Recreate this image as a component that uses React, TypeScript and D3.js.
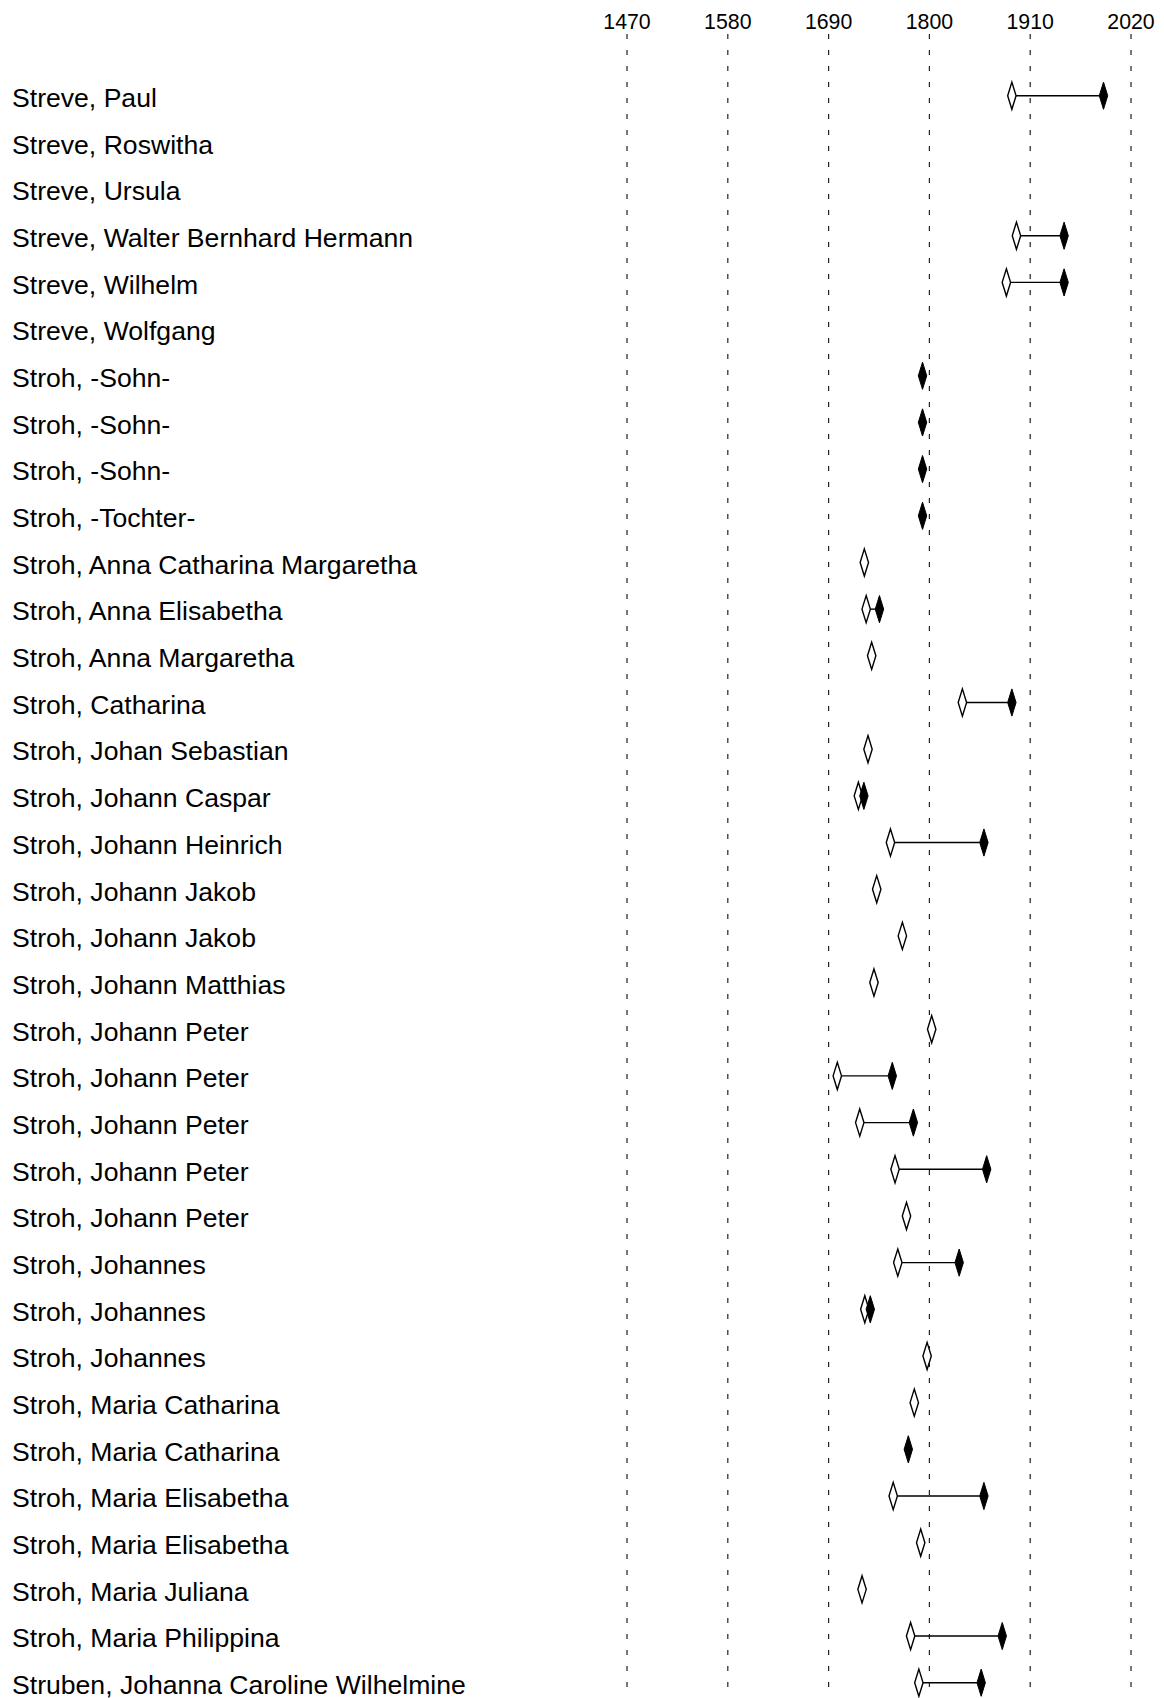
import React from "react";
import * as d3 from "d3";

const names: string[] = [
  "Streve, Paul",
  "Streve, Roswitha",
  "Streve, Ursula",
  "Streve, Walter Bernhard Hermann",
  "Streve, Wilhelm",
  "Streve, Wolfgang",
  "Stroh, -Sohn-",
  "Stroh, -Sohn-",
  "Stroh, -Sohn-",
  "Stroh, -Tochter-",
  "Stroh, Anna Catharina Margaretha",
  "Stroh, Anna Elisabetha",
  "Stroh, Anna Margaretha",
  "Stroh, Catharina",
  "Stroh, Johan Sebastian",
  "Stroh, Johann Caspar",
  "Stroh, Johann Heinrich",
  "Stroh, Johann Jakob",
  "Stroh, Johann Jakob",
  "Stroh, Johann Matthias",
  "Stroh, Johann Peter",
  "Stroh, Johann Peter",
  "Stroh, Johann Peter",
  "Stroh, Johann Peter",
  "Stroh, Johann Peter",
  "Stroh, Johannes",
  "Stroh, Johannes",
  "Stroh, Johannes",
  "Stroh, Maria Catharina",
  "Stroh, Maria Catharina",
  "Stroh, Maria Elisabetha",
  "Stroh, Maria Elisabetha",
  "Stroh, Maria Juliana",
  "Stroh, Maria Philippina",
  "Struben, Johanna Caroline Wilhelmine",
];

// birth years (open diamonds); null = unknown
const births: (number | null)[] = [
  1890, null, null, 1895, 1884, null,
  null, null, null, null,
  1729, 1731, 1737, 1836, 1733, 1722.5, 1757.5, 1742.5, 1770.5, 1739.5,
  1802.5, 1699.5, 1724, 1762.5, 1775, 1765.5, 1729.5, 1797.5,
  1783.5, null, 1760.5, 1790.5, 1726.5, 1779.5, 1788.5,
];

// death years (filled diamonds); null = unknown
const deaths: (number | null)[] = [
  1990, null, null, 1947, 1947, null,
  1792.5, 1792.5, 1792.5, 1792.5,
  null, 1745.5, null, 1890, null, 1728.5, 1859.5, null, null, null,
  null, 1759.5, 1782.5, 1862.5, null, 1832.5, 1735.5, null,
  null, 1777, 1859.5, null, null, 1879.5, 1856.5,
];

const tickYears: number[] = [1470, 1580, 1690, 1800, 1910, 2020];

const W = 1164;
const H = 1698;

export default function App() {
  const x = d3.scaleLinear().domain([1470, 2020]).range([627, 1131]);
  const y = d3
    .scalePoint<number>()
    .domain(d3.range(names.length))
    .range([95.7, 1682.7]);

  const dw = 4.2;
  const dh = 13.6;
  const diamond = (cx: number, cy: number) =>
    `M${cx},${cy - dh}L${cx + dw},${cy}L${cx},${cy + dh}L${cx - dw},${cy}Z`;

  return (
    <svg
      width={W}
      height={H}
      style={{ position: "absolute", left: 0, top: 0, background: "#fff" }}
      fontFamily="Liberation Sans, Arial, sans-serif"
    >
      <rect x={0} y={0} width={W} height={H} fill="#fff" />
      {tickYears.map((t) => (
        <g key={t}>
          <text x={x(t)} y={28.8} fontSize={21.3} textAnchor="middle" fill="#000">
            {t}
          </text>
          <line
            x1={x(t)}
            x2={x(t)}
            y1={34}
            y2={H}
            stroke="#222"
            strokeWidth={1.2}
            strokeDasharray="5,11"
          />
        </g>
      ))}
      {names.map((n, i) => {
        const cy = y(i) as number;
        const b = births[i];
        const d = deaths[i];
        return (
          <g key={i}>
            <text x={12} y={cy + 11.3} fontSize={26.6} fill="#000">
              {n}
            </text>
            {b !== null && d !== null && (
              <line
                x1={x(b) + dw}
                x2={x(d) - dw}
                y1={cy}
                y2={cy}
                stroke="#000"
                strokeWidth={1.4}
              />
            )}
            {b !== null && (
              <path d={diamond(x(b), cy)} fill="#fff" stroke="#000" strokeWidth={1.4} />
            )}
            {d !== null && (
              <path d={diamond(x(d), cy)} fill="#000" stroke="#000" strokeWidth={1} />
            )}
          </g>
        );
      })}
    </svg>
  );
}
